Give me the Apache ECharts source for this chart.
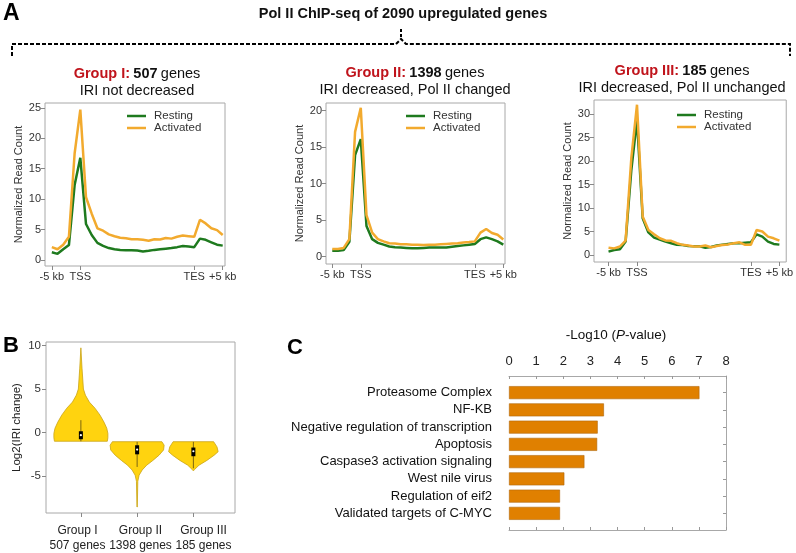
<!DOCTYPE html>
<html><head><meta charset="utf-8">
<script src="https://cdn.jsdelivr.net/npm/echarts@6/dist/echarts.min.js"></script>
<style>html,body{margin:0;padding:0;background:#fff}#c{width:796px;height:553px}</style>
</head><body><div id="c"></div>
<script>
// ---------- DATA ----------
const bins = [0,1,2,3,4,5,6,7,8,9,10,11,12,13,14,15,16,17,18,19,20,21,22,23,24,25,26,27,28,29,30];
const profileTicks = [0,5,25,30];
const profileTickLabels = ['-5 kb','TSS','TES','+5 kb'];

const g1Resting   = [1.25,1.0,1.75,2.45,12.3,16.8,5.9,4.1,2.8,2.3,1.95,1.75,1.65,1.6,1.6,1.55,1.4,1.5,1.65,1.75,1.85,1.95,2.1,2.3,2.2,2.1,3.5,3.3,2.9,2.5,2.35];
const g1Activated = [2.1,1.75,2.5,3.8,17.5,24.7,10.3,7.6,5.2,4.8,4.2,3.9,3.65,3.55,3.4,3.4,3.3,3.15,3.4,3.35,3.6,3.5,3.8,4.0,3.9,3.8,6.6,6.0,5.2,4.9,4.1];
const g2Resting   = [0.8,0.8,0.9,2.05,13.9,16.1,4.2,2.4,1.9,1.65,1.4,1.3,1.25,1.2,1.15,1.15,1.2,1.25,1.25,1.25,1.25,1.35,1.45,1.55,1.65,1.75,2.4,2.65,2.4,2.1,1.65];
const g2Activated = [1.05,1.05,1.2,2.4,17.1,20.4,5.7,3.3,2.4,2.1,1.85,1.8,1.7,1.7,1.65,1.65,1.6,1.65,1.65,1.7,1.75,1.8,1.85,1.95,2.0,2.1,3.3,3.8,3.25,3.0,2.35];
const g3Resting   = [0.7,1.05,1.2,2.85,18.0,28.8,7.8,4.8,3.7,3.3,2.85,2.5,2.15,2.1,1.9,1.85,1.85,1.55,1.7,2.0,2.2,2.35,2.5,2.5,2.6,2.7,4.4,3.9,2.85,2.35,2.2];
const g3Activated = [1.55,1.4,1.8,3.05,20.6,32.0,8.2,5.3,4.4,3.55,3.1,3.0,2.5,2.15,2.0,1.8,1.8,2.0,1.65,1.9,2.1,2.25,2.5,2.7,2.15,2.15,5.3,5.0,3.9,3.55,3.05];

const g1Ticks = [0,5,10,15,20,25];
const g2Ticks = [0,5,10,15,20];
const g3Ticks = [0,5,10,15,20,25,30];

// violin: [log2 value, half width (x units)]
const violinGroupI   = [[9.73,0],[7.4,0.02],[5.0,0.045],[4.3,0.08],[3.5,0.15],[2.8,0.25],[2.0,0.34],[1.2,0.41],[0.5,0.46],[-0.1,0.48],[-0.6,0.48],[-1.0,0.47]];
const violinGroupII  = [[-1.05,0.44],[-1.45,0.48],[-2.0,0.47],[-2.6,0.39],[-3.2,0.28],[-3.75,0.17],[-4.3,0.09],[-4.9,0.035],[-5.6,0.012],[-8.55,0.003]];
const violinGroupIII = [[-1.05,0.36],[-1.65,0.42],[-2.2,0.44],[-2.6,0.37],[-3.2,0.24],[-3.75,0.1],[-4.25,0.02],[-4.4,0]];
const boxQ1     = [-0.77,-2.5,-2.72];
const boxQ3     = [0.15,-1.46,-1.72];
const medians   = [-0.3,-1.95,-2.15];
const whiskLow  = [-1.0,-3.95,-4.1];
const whiskHigh = [1.42,-1.07,-1.07];
const violinPositions = [1,2,3];
const violinLabels = ['Group I\n507 genes','Group II\n1398 genes','Group III\n185 genes'];
const violinTicks = [-5,0,5,10];

const pathways = ['Proteasome Complex','NF-KB','Negative regulation of transcription','Apoptosis','Caspase3 activation signaling','West nile virus','Regulation of eif2','Validated targets of C-MYC'];
const pValues  = [7.02,3.5,3.27,3.25,2.78,2.04,1.88,1.88];

// ---------- STYLE / LAYOUT ----------
const FONT = 'Liberation Sans, Arial, sans-serif';
const GREEN = '#1e7a1e', ORANGE = '#f2aa2e', FRAME = '#a8a8a8', TXT = '#333', RED = '#c0141c';
const NOLINE = {show:false, onZero:false};

const panels = [
  {left:45,  top:103, width:180, height:163, xmin:-1.2, xmax:30.4, ymin:-1,   ymax:25.8, ticks:g1Ticks, rest:g1Resting, act:g1Activated, nameGap:21, legLeft:122, legTop:105},
  {left:326, top:103, width:179, height:161, xmin:-1.1, xmax:30.3, ymin:-1,   ymax:21.05, ticks:g2Ticks, rest:g2Resting, act:g2Activated, nameGap:21, legLeft:401, legTop:105},
  {left:594, top:100, width:194, height:162, xmin:-2.55, xmax:31.2, ymin:-1.5, ymax:33.0, ticks:g3Ticks, rest:g3Resting, act:g3Activated, nameGap:17, legLeft:672, legTop:104}
];

const grids = [], xAxes = [], yAxes = [], series = [], legends = [];
panels.forEach((p, i) => {
  grids.push({left:p.left, top:p.top, width:p.width, height:p.height, show:true, borderColor:FRAME, borderWidth:1});
  xAxes.push({gridIndex:i, type:'value', min:p.xmin, max:p.xmax,
    axisLine:NOLINE, splitLine:{show:false},
    axisTick:{show:true, customValues:profileTicks, length:4, lineStyle:{color:'#888'}},
    axisLabel:{customValues:profileTicks, fontSize:11, color:TXT, margin:5, fontFamily:FONT, hideOverlap:false,
      formatter: v => profileTickLabels[profileTicks.indexOf(v)]}});
  yAxes.push({gridIndex:i, type:'value', min:p.ymin, max:p.ymax,
    axisLine:NOLINE, splitLine:{show:false},
    axisTick:{show:true, customValues:p.ticks, length:4, lineStyle:{color:'#888'}},
    axisLabel:{customValues:p.ticks, fontSize:11, color:TXT, margin:4, fontFamily:FONT},
    name:'Normalized Read Count', nameLocation:'middle', nameGap:p.nameGap,
    nameTextStyle:{fontSize:11, color:TXT, fontFamily:FONT}});
  series.push({type:'line', name:'Resting', xAxisIndex:i, yAxisIndex:i, symbol:'none',
    data: bins.map((b, k) => [b, p.rest[k]]), lineStyle:{color:GREEN, width:2.5}, itemStyle:{color:GREEN}, z:3});
  series.push({type:'line', name:'Activated', xAxisIndex:i, yAxisIndex:i, symbol:'none',
    data: bins.map((b, k) => [b, p.act[k]]), lineStyle:{color:ORANGE, width:2.5}, itemStyle:{color:ORANGE}, z:4});
  legends.push({left:p.legLeft, top:p.legTop, orient:'vertical', icon:'rect', itemWidth:19, itemHeight:2.5,
    itemGap:0, selectedMode:false, data:['Resting','Activated'],
    textStyle:{fontSize:11.5, color:TXT, fontFamily:FONT, padding:[0,0,0,3]}});
});

// violin panel (grid 3); xAxis 3 = value (ticks), xAxis 4 = category (labels)
grids.push({left:46, top:342, width:189, height:171, show:true, borderColor:FRAME, borderWidth:1});
xAxes.push({gridIndex:3, type:'value', position:'bottom', min:0.38, max:3.74, axisLine:NOLINE, splitLine:{show:false},
  axisTick:{show:true, customValues:violinPositions, length:4, lineStyle:{color:'#888'}},
  axisLabel:{show:false}});
xAxes.push({gridIndex:3, type:'category', data:violinLabels, position:'bottom',
  axisLine:NOLINE, axisTick:{show:false}, splitLine:{show:false},
  axisLabel:{interval:0, hideOverlap:false, fontSize:12, color:'#222', margin:10, lineHeight:15, fontFamily:FONT}});
yAxes.push({gridIndex:3, type:'value', min:-9.24, max:10.4, axisLine:NOLINE, splitLine:{show:false},
  axisTick:{show:true, customValues:violinTicks, length:4, lineStyle:{color:'#888'}},
  axisLabel:{customValues:violinTicks, fontSize:11.5, color:TXT, margin:5, fontFamily:FONT},
  name:'Log2(IRI change)', nameLocation:'middle', nameGap:23, nameTextStyle:{fontSize:11.5, color:'#222', fontFamily:FONT}});
const violinProfiles = [violinGroupI, violinGroupII, violinGroupIII];
series.push({type:'custom', xAxisIndex:3, yAxisIndex:3, clip:false,
  data: violinPositions.map((pos, g) => [pos, g]),
  encode:{x:0, y:1},
  renderItem: function(params, api){
    const cx = api.value(0), g = api.value(1);
    const prof = violinProfiles[g];
    const pts = [];
    prof.forEach(p => pts.push(api.coord([cx + p[1], p[0]])));
    for (let k = prof.length - 1; k >= 0; k--) pts.push(api.coord([cx - prof[k][1], prof[k][0]]));
    const t = api.coord([cx, boxQ3[g]]), b = api.coord([cx, boxQ1[g]]);
    const wt = api.coord([cx, whiskHigh[g]]), wb = api.coord([cx, whiskLow[g]]);
    const m = api.coord([cx, medians[g]]);
    return {type:'group', children:[
      {type:'polygon', shape:{points:pts}, style:{fill:'#ffd30f', stroke:'#c9a316', lineWidth:0.8}},
      {type:'line', shape:{x1:wt[0], y1:wt[1], x2:wb[0], y2:wb[1]}, style:{stroke:'#5a4a10', lineWidth:0.8}},
      {type:'rect', shape:{x:t[0]-2, y:t[1], width:4, height:b[1]-t[1]}, style:{fill:'#000'}},
      {type:'circle', shape:{cx:m[0], cy:m[1], r:1.1}, style:{fill:'#fff'}}
    ]};
  }});

// bar panel: grid 4 bars (xAxis 5, yAxis 4/5), grid 5 frame (xAxis 6/7, yAxis 6)
grids.push({left:509, top:384, width:217, height:138});
grids.push({left:509, top:376, width:217, height:154});
xAxes.push({gridIndex:4, type:'value', min:0, max:8, show:false, axisLine:NOLINE});
yAxes.push({gridIndex:4, type:'category', data:pathways, inverse:true, position:'left',
  axisLine:NOLINE, axisTick:{show:false},
  axisLabel:{fontSize:13, color:'#111', margin:17, fontFamily:FONT}});
yAxes.push({gridIndex:4, type:'category', data:pathways, inverse:true, position:'right',
  axisLine:NOLINE, axisTick:{show:true, inside:true, alignWithLabel:true, length:3, lineStyle:{color:'#999'}},
  axisLabel:{show:false}});
xAxes.push({gridIndex:5, type:'value', position:'top', min:0, max:8, interval:1,
  axisLine:{show:true, onZero:false, lineStyle:{color:FRAME}}, splitLine:{show:false},
  axisTick:{show:true, inside:true, length:3, lineStyle:{color:'#999'}},
  axisLabel:{fontSize:13, color:'#222', margin:8, fontFamily:FONT}});
xAxes.push({gridIndex:5, type:'value', position:'bottom', min:0, max:8, interval:1,
  axisLine:{show:true, onZero:false, lineStyle:{color:FRAME}}, splitLine:{show:false},
  axisTick:{show:true, inside:true, length:3, lineStyle:{color:'#999'}},
  axisLabel:{show:false}});
yAxes.push({gridIndex:5, type:'value', position:'right', min:0, max:1,
  axisLine:{show:true, onZero:false, lineStyle:{color:FRAME}}, axisTick:{show:false}, axisLabel:{show:false}, splitLine:{show:false}});
series.push({type:'bar', xAxisIndex:5, yAxisIndex:4, data:pValues, barWidth:13,
  itemStyle:{color:'#e08000', borderColor:'#b0660a', borderWidth:0.6}});

// ---------- TEXT / DECORATION ----------
function groupTitle(x, y, label, n, sub){
  return [
    {type:'text', x:x, y:y, style:{text:'{r|' + label + '} {b|' + n + '} {n|genes}', align:'center', verticalAlign:'middle',
      rich:{r:{fontSize:14.5, fontWeight:'bold', fill:RED, fontFamily:FONT}, b:{fontSize:14.5, fontWeight:'bold', fill:'#111', fontFamily:FONT}, n:{fontSize:14.5, fill:'#111', fontFamily:FONT}}}},
    {type:'text', x:x, y:y + 17, style:{text:sub, align:'center', verticalAlign:'middle', fontSize:14.5, fill:'#111', fontFamily:FONT}}
  ];
}
const graphics = [
  {type:'text', left:3, top:2, style:{text:'A', fontSize:23, fontWeight:'bold', fill:'#000', fontFamily:FONT}},
  {type:'text', x:403, y:14, style:{text:'Pol II ChIP-seq of 2090 upregulated genes', align:'center', verticalAlign:'middle', fontSize:14.5, fontWeight:'bold', fill:'#111', fontFamily:FONT}},
  {type:'polyline', shape:{points:[[12,56],[12,44],[396,44],[401,39],[406,44],[790,44],[790,56]]}, style:{stroke:'#000', lineWidth:2, lineDash:[4,2], fill:null}},
  {type:'line', shape:{x1:401, y1:29, x2:401, y2:37}, style:{stroke:'#000', lineWidth:2, lineDash:[3,2]}},
  ...groupTitle(137, 74, 'Group I:', '507', 'IRI not decreased'),
  ...groupTitle(415, 73, 'Group II:', '1398', 'IRI decreased, Pol II changed'),
  ...groupTitle(682, 71, 'Group III:', '185', 'IRI decreased, Pol II unchanged'),
  {type:'text', left:3, top:335, style:{text:'B', fontSize:22, fontWeight:'bold', fill:'#000', fontFamily:FONT}},
  {type:'text', left:287, top:337, style:{text:'C', fontSize:22, fontWeight:'bold', fill:'#000', fontFamily:FONT}},
  {type:'text', x:616, y:335, style:{text:'-Log10 ({i|P}-value)', align:'center', verticalAlign:'middle', fontSize:13.5, fill:'#111', fontFamily:FONT,
    rich:{i:{fontStyle:'italic', fontSize:13.5, fill:'#111', fontFamily:FONT}}}}
];

const chart = echarts.init(document.getElementById('c'), null, {renderer:'canvas'});
chart.setOption({
  animation:false,
  backgroundColor:'#fff',
  textStyle:{fontFamily:FONT},
  grid:grids, xAxis:xAxes, yAxis:yAxes, series:series, legend:legends, graphic:graphics
});
</script></body></html>
